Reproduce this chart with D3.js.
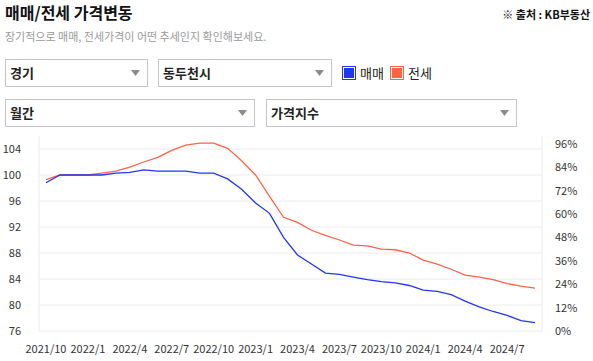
<!DOCTYPE html>
<html>
<head>
<meta charset="utf-8">
<script src="https://cdn.jsdelivr.net/npm/d3@7"></script>
<style>
  html, body { margin: 0; padding: 0; background: #fff; }
  svg { display: block; font-family: 'Noto Sans CJK KR', 'Noto Sans', sans-serif; }
</style>
</head>
<body>
<div id="chart"></div>
<script>
// months 2021/10 .. 2024/9
const months = [];
for (let y = 2021, m = 10; months.length < 36; m++) {
    if (m > 12) { m = 1; y++; }
    months.push(`${y}/${m}`);
}
const tradeIndex = [98.8, 100, 100, 100, 100, 100.3, 100.4, 100.8, 100.6, 100.6, 100.6, 100.3,
    100.3, 99.4, 97.8, 95.7, 94.1, 90.4, 87.7, 86.3, 84.9, 84.7, 84.3, 83.9,
    83.6, 83.4, 83.0, 82.3, 82.1, 81.6, 80.6, 79.7, 79.0, 78.4, 77.6, 77.3];
const jeonseIndex = [99.3, 100, 100, 100, 100.3, 100.6, 101.2, 102.0, 102.7, 103.8, 104.6, 104.9,
    104.9, 104.1, 102.2, 100.0, 96.7, 93.5, 92.7, 91.5, 90.7, 90.0, 89.2, 89.1,
    88.6, 88.5, 88.0, 86.9, 86.3, 85.5, 84.6, 84.3, 83.9, 83.3, 82.9, 82.6];
const leftTicks = [76, 80, 84, 88, 92, 96, 100, 104];
const rightTicks = [0, 12, 24, 36, 48, 60, 72, 84, 96];
const xTickLabels = ['2021/10', '2022/1', '2022/4', '2022/7', '2022/10', '2023/1',
    '2023/4', '2023/7', '2023/10', '2024/1', '2024/4', '2024/7'];
const selects = [
    { label: '경기', x: 5, y: 59, w: 142 },
    { label: '동두천시', x: 158, y: 59, w: 173 },
    { label: '월간', x: 5, y: 99, w: 249 },
    { label: '가격지수', x: 266, y: 99, w: 250 }
];
const legendItems = [
    { name: '매매', color: '#2236f0', x: 342 },
    { name: '전세', color: '#ff6347', x: 390 }
];

const W = 593, H = 361;
const svg = d3.select('#chart').append('svg').attr('width', W).attr('height', H);

// header ===============================================
svg.append('text').attr('x', 5).attr('y', 19)
    .text('매매/전세 가격변동')
    .style('font-size', '16px').style('font-weight', 'bold').style('fill', '#111');
svg.append('text').attr('x', 590).attr('y', 19).attr('text-anchor', 'end')
    .text('※ 출처 : KB부동산')
    .style('font-size', '11px').style('font-weight', 'bold').style('fill', '#111');
svg.append('text').attr('x', 5).attr('y', 41)
    .text('장기적으로 매매, 전세가격이 어떤 추세인지 확인해보세요.')
    .style('font-size', '11px').style('fill', '#9a9a9a');

// select boxes
const sel = svg.append('g').selectAll('g').data(selects).enter().append('g')
    .attr('transform', d => `translate(${d.x},${d.y})`);
sel.append('rect').attr('x', 0.5).attr('y', 0.5)
    .attr('width', d => d.w).attr('height', 27)
    .attr('fill', '#fff').attr('stroke', '#c4c4cc');
sel.append('text').attr('x', 5).attr('y', 19)
    .text(d => d.label)
    .style('font-size', '13px').style('font-weight', 'bold').style('fill', '#222');
sel.append('path')
    .attr('d', d => `M${d.w - 16},11 h9 l-4.5,6 z`)
    .attr('fill', '#8c8c8c');

// legend
const leg = svg.append('g').selectAll('g').data(legendItems).enter().append('g')
    .attr('transform', d => `translate(${d.x},66)`);
leg.append('rect').attr('x', 0.5).attr('y', 0.5).attr('width', 13).attr('height', 13)
    .attr('fill', '#fff').attr('stroke', d => d.color);
leg.append('rect').attr('x', 2).attr('y', 2).attr('width', 10).attr('height', 10)
    .attr('fill', d => d.color);
leg.append('text').attr('x', 18).attr('y', 12)
    .text(d => d.name)
    .style('font-size', '13px').style('fill', '#222');

// chart ===============================================
const plot = { left: 39, right: 542, top: 136, bottom: 331 };

const x = d3.scaleBand().domain(months).range([plot.left, plot.right]).padding(0);
const cx = d => x(d) + x.bandwidth() / 2;
const y = d3.scaleLinear().domain([76, 106]).range([plot.bottom, plot.top]);
const y2 = d3.scaleLinear().domain([0, 100]).range([plot.bottom, plot.top]);

// grid
svg.append('g').selectAll('line').data(leftTicks.slice(1)).enter().append('line')
    .attr('x1', plot.left).attr('x2', plot.right)
    .attr('y1', d => y(d)).attr('y2', d => y(d))
    .attr('stroke', '#ececec').attr('stroke-width', 1);

// frame lines
svg.append('line').attr('x1', plot.left).attr('x2', plot.left)
    .attr('y1', plot.top).attr('y2', plot.bottom).attr('stroke', '#ececec');
svg.append('line').attr('x1', plot.right).attr('x2', plot.right)
    .attr('y1', plot.top).attr('y2', plot.bottom).attr('stroke', '#ececec');
svg.append('line').attr('x1', plot.left).attr('x2', plot.right)
    .attr('y1', plot.bottom).attr('y2', plot.bottom).attr('stroke', '#ececec');

// left axis
const leftAxis = svg.append('g').attr('transform', `translate(${plot.left},0)`)
    .call(d3.axisLeft(y).tickValues(leftTicks).tickSize(0).tickPadding(18));
leftAxis.select('.domain').remove();
leftAxis.selectAll('text').style('font-size', '11px').style('fill', '#333')
    .style('font-family', "'Noto Sans CJK KR', sans-serif");

// right axis
const rightAxis = svg.append('g').attr('transform', `translate(${plot.right},0)`)
    .call(d3.axisRight(y2).tickValues(rightTicks).tickSize(0).tickPadding(13).tickFormat(d => d + '%'));
rightAxis.select('.domain').remove();
rightAxis.selectAll('text').style('font-size', '11px').style('fill', '#333')
    .style('font-family', "'Noto Sans CJK KR', sans-serif");

// bottom axis
const bottomAxis = svg.append('g').attr('transform', `translate(0,${plot.bottom})`)
    .call(d3.axisBottom(x).tickValues(xTickLabels).tickSize(0).tickPadding(14));
bottomAxis.select('.domain').remove();
bottomAxis.selectAll('text').style('font-size', '11px').style('fill', '#333')
    .style('font-family', "'Noto Sans CJK KR', sans-serif");

// lines
const line = d3.line().x(d => cx(d.m)).y(d => y(d.v));
const series = [
    { name: '전세', color: legendItems[1].color, values: jeonseIndex },
    { name: '매매', color: legendItems[0].color, values: tradeIndex }
];
series.forEach(s => {
    const pts = s.values.map((v, i) => ({ m: months[i], v: v }));
    svg.append('path').datum(pts)
        .attr('d', line)
        .attr('fill', 'none')
        .attr('stroke', s.color)
        .attr('stroke-width', 1.3);
});
</script>
</body>
</html>
